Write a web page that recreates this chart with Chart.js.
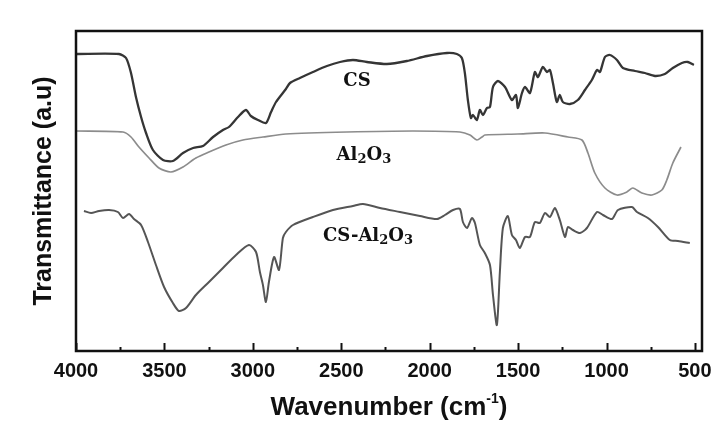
<!DOCTYPE html>
<html>
<head>
<meta charset="utf-8">
<script src="https://cdn.jsdelivr.net/npm/chart.js"></script>
<style>
  html, body { margin: 0; padding: 0; background: #fff; }
</style>
</head>
<body>
<canvas id="ftir" width="719" height="428"></canvas>
<script>
// FTIR spectra, values (transmittance in arbitrary units)
const csWavenumber = [4000, 3757, 3717, 3689, 3661, 3632, 3604, 3565, 3508, 3452, 3395, 3338, 3282, 3225, 3169, 3135, 3084, 3039, 3011, 2971, 2926, 2897, 2869, 2813, 2790, 2734, 2660, 2581, 2507, 2434, 2355, 2242, 2129, 2015, 1902, 1846, 1818, 1801, 1784, 1767, 1755, 1733, 1716, 1699, 1676, 1659, 1642, 1614, 1574, 1535, 1512, 1501, 1478, 1461, 1433, 1405, 1388, 1360, 1337, 1320, 1303, 1281, 1264, 1247, 1207, 1162, 1122, 1083, 1054, 1037, 1009, 981, 941, 907, 839, 783, 726, 670, 625, 574, 540, 506];
const csTransmittance = [297, 297, 293, 278, 254, 234, 218, 201, 191, 190, 198, 203, 205, 214, 221, 224, 234, 241, 235, 231, 228, 239, 249, 262, 268, 273, 279, 285, 289, 291, 289, 287, 290, 295, 298, 297, 293, 278, 251, 233, 236, 231, 241, 236, 243, 244, 264, 270, 264, 251, 256, 243, 258, 264, 258, 279, 274, 284, 279, 281, 268, 249, 256, 249, 247, 251, 261, 271, 281, 279, 294, 296, 291, 283, 280, 278, 275, 277, 283, 288, 289, 286];

const aluWavenumber = [4000, 3734, 3689, 3644, 3587, 3531, 3463, 3395, 3322, 3248, 3152, 3056, 2943, 2813, 2468, 2095, 1829, 1772, 1733, 1704, 1688, 1501, 1348, 1218, 1139, 1105, 1066, 1009, 941, 885, 851, 800, 743, 687, 659, 625, 579];
const aluTransmittance = [220, 219, 214, 204, 193, 183, 179, 184, 193, 199, 206, 211, 214, 217, 219, 220, 219, 216, 211, 214, 216, 217, 218, 214, 211, 198, 178, 163, 156, 159, 163, 158, 156, 161, 171, 188, 204];

const compWavenumber = [3955, 3915, 3870, 3813, 3763, 3734, 3700, 3672, 3632, 3593, 3548, 3502, 3452, 3418, 3378, 3322, 3248, 3169, 3095, 3022, 2982, 2960, 2943, 2926, 2909, 2880, 2852, 2830, 2813, 2773, 2660, 2547, 2434, 2377, 2281, 2168, 2055, 1959, 1914, 1868, 1829, 1812, 1789, 1761, 1744, 1716, 1688, 1659, 1642, 1620, 1603, 1586, 1558, 1535, 1512, 1490, 1461, 1433, 1405, 1377, 1348, 1320, 1292, 1264, 1235, 1218, 1190, 1150, 1111, 1054, 1020, 969, 935, 856, 828, 766, 709, 642, 596, 529];
const compTransmittance = [140, 138, 140, 141, 139, 133, 137, 132, 126, 109, 86, 64, 48, 40, 43, 56, 69, 83, 96, 106, 99, 79, 66, 49, 69, 94, 81, 113, 119, 126, 134, 141, 145, 147, 143, 139, 135, 132, 136, 141, 142, 129, 123, 133, 128, 106, 98, 86, 56, 26, 79, 123, 135, 116, 111, 103, 114, 114, 129, 128, 138, 134, 143, 131, 114, 124, 121, 118, 123, 139, 136, 132, 141, 144, 139, 133, 124, 111, 110, 108];

const xTickLabels = [4000, 3500, 3000, 2500, 2000, 1500, 1000, 500];
const xMinorTicks = [3750, 3250, 2750, 2250, 1750, 1250, 750];
const seriesNames = ["CS", "Al2O3", "CS-Al2O3"];

const toPoints = (xs, ys) => xs.map((x, i) => ({ x: x, y: ys[i] }));

const SANS = "'Liberation Sans', Arial, sans-serif";
const SERIF = "'DejaVu Serif', 'Liberation Serif', serif";

// curve labels with subscripts, placed in data coordinates
const curveLabels = [
  { parts: [["CS", 0]], wn: 2411, t: 270 },
  { parts: [["Al", 0], ["2", 1], ["O", 0], ["3", 1]], wn: 2372, t: 196 },
  { parts: [["CS-Al", 0], ["2", 1], ["O", 0], ["3", 1]], wn: 2349, t: 115 }
];

const labelPlugin = {
  id: "curveLabels",
  afterDatasetsDraw(chart) {
    const { ctx, scales: { x, y } } = chart;
    ctx.save();
    ctx.fillStyle = "#111";
    ctx.textBaseline = "middle";
    ctx.textAlign = "left";
    const big = "bold 18px " + SERIF;
    const small = "bold 13px " + SERIF;
    curveLabels.forEach(lab => {
      let w = 0;
      lab.parts.forEach(p => { ctx.font = p[1] ? small : big; w += ctx.measureText(p[0]).width; });
      let cx = x.getPixelForValue(lab.wn) - w / 2;
      const cy = y.getPixelForValue(lab.t);
      lab.parts.forEach(p => {
        ctx.font = p[1] ? small : big;
        ctx.fillText(p[0], cx, p[1] ? cy + 5 : cy);
        cx += ctx.measureText(p[0]).width;
      });
    });
    ctx.restore();
  }
};

const framePlugin = {
  id: "frame",
  afterDraw(chart) {
    const { ctx, chartArea: { left, right, top, bottom }, scales: { x } } = chart;
    ctx.save();
    ctx.strokeStyle = "#111";
    ctx.lineWidth = 2;
    x.ticks.forEach(t => {
      const px = Math.round(x.getPixelForValue(t.value)) + 0.5;
      const len = xTickLabels.includes(t.value) ? 8 : 4;
      ctx.beginPath();
      ctx.moveTo(px, bottom);
      ctx.lineTo(px, bottom - len);
      ctx.stroke();
    });
    ctx.lineWidth = 2.5;
    ctx.strokeRect(left, top, right - left, bottom - top);

    // x axis title with superscript
    const mid = (left + right) / 2;
    const ty = 408;
    ctx.fillStyle = "#111";
    ctx.textBaseline = "middle";
    ctx.textAlign = "left";
    const main = "bold 26px " + SANS;
    const sup = "bold 14px " + SANS;
    const a = "Wavenumber (cm", b = "-1", c = ")";
    ctx.font = main; const wa = ctx.measureText(a).width, wc = ctx.measureText(c).width;
    ctx.font = sup; const wb = ctx.measureText(b).width;
    let sx = mid - (wa + wb + wc) / 2;
    ctx.font = main; ctx.fillText(a, sx, ty); sx += wa;
    ctx.font = sup; ctx.fillText(b, sx, ty - 9); sx += wb;
    ctx.font = main; ctx.fillText(c, sx, ty);
    ctx.restore();
  }
};

new Chart(document.getElementById("ftir").getContext("2d"), {
  type: "line",
  data: {
    datasets: [
      { label: seriesNames[0], data: toPoints(csWavenumber, csTransmittance), borderColor: "#353535", borderWidth: 2.3 },
      { label: seriesNames[1], data: toPoints(aluWavenumber, aluTransmittance), borderColor: "#8c8c8c", borderWidth: 1.7 },
      { label: seriesNames[2], data: toPoints(compWavenumber, compTransmittance), borderColor: "#555555", borderWidth: 2 }
    ]
  },
  options: {
    responsive: false,
    animation: false,
    devicePixelRatio: 1,
    elements: { point: { radius: 0 }, line: { tension: 0.25 } },
    layout: { padding: { top: 31, right: 17, left: 0, bottom: 0 } },
    plugins: { legend: { display: false }, tooltip: { enabled: false } },
    scales: {
      x: {
        type: "linear",
        reverse: true,
        min: 460,
        max: 4000,
        grid: { display: false, drawTicks: false },
        border: { display: false },
        afterBuildTicks(s) {
          s.ticks = xTickLabels.concat(xMinorTicks).sort((a, b) => a - b).map(v => ({ value: v }));
        },
        ticks: {
          autoSkip: false,
          maxRotation: 0,
          padding: 8,
          color: "#111",
          font: { family: SANS, size: 20, weight: "bold" },
          callback: v => (xTickLabels.includes(v) ? String(v) : "")
        },
        afterFit(s) { s.height = 77; }
      },
      y: {
        min: 0,
        max: 320,
        grid: { display: false },
        border: { display: false },
        ticks: { display: false },
        title: {
          display: true,
          text: "Transmittance (a.u)",
          color: "#111",
          font: { family: SANS, size: 25, weight: "bold" },
          padding: { top: 29, bottom: 0 }
        },
        afterFit(s) { s.width = 76; }
      }
    }
  },
  plugins: [labelPlugin, framePlugin]
});
</script>
</body>
</html>
